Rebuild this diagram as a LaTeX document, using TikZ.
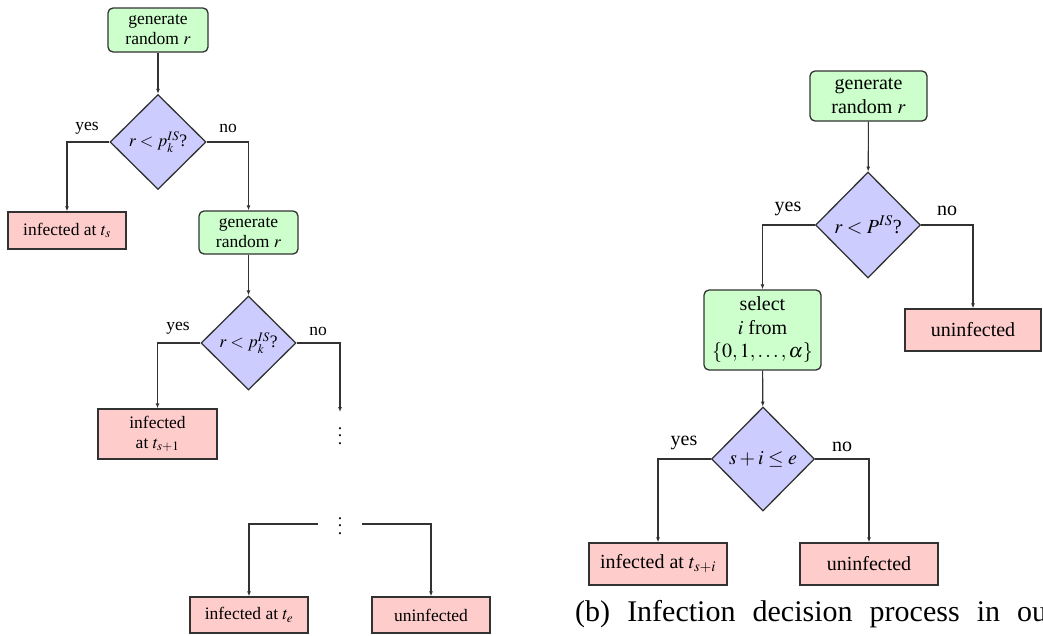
\documentclass[tikz,border=0pt]{standalone}
\usepackage{mathptmx}
\usepackage{fontspec}
\setmainfont{Liberation Serif}
\usetikzlibrary{shapes.geometric,arrows.meta}
\definecolor{gfill}{RGB}{204,255,204}
\definecolor{bfill}{RGB}{204,204,255}
\definecolor{rfill}{RGB}{255,204,204}
\definecolor{edge}{RGB}{50,50,50}
\newcommand{\bigvdots}{\vbox{\baselineskip7.5pt\lineskiplimit0pt\hbox{.}\hbox{.}\hbox{.}}}
\tikzset{
 base/.style={draw=edge, line width=1.3pt, inner sep=0pt, align=center},
 gen/.style={base, fill=gfill, rounded corners=5pt},
 res/.style={base, fill=rfill},
 dec/.style={base, diamond, fill=bfill},
 conn/.style={draw=edge, line width=1.1pt, -{Latex[length=5pt,width=4pt]}},
 fl/.style={font=\fontsize{17.5}{20}\selectfont},
 fr/.style={font=\fontsize{20}{23.5}\selectfont},
 lbl/.style={inner sep=0pt},
}
\begin{document}
\begin{tikzpicture}[x=1pt,y=1pt]
\useasboundingbox (0,0) rectangle (1043,-635);
% ---------- left ----------
\node[gen,fl,minimum width=100pt,minimum height=44pt] (g1) at (158,-30) {generate\\random $r$};
\node[dec,fl,minimum width=96pt,minimum height=95pt] (d1) at (158,-142) {$r<p_k^{IS}$?};
\node[res,fl,minimum width=118pt,minimum height=37pt] (i1) at (67,-230.5) {infected at $t_s$};
\node[gen,fl,minimum width=99pt,minimum height=43pt] (g2) at (248.5,-232.5) {generate\\random $r$};
\node[dec,fl,minimum width=95pt,minimum height=94pt] (d2) at (248.5,-343) {$r<p_k^{IS}$?};
\node[res,fl,minimum width=119pt,minimum height=50pt] (i2) at (157.5,-434) {infected\\at $t_{s+1}$};
\coordinate (c1) at (340,-412);
\node[fl,lbl] (v1) at (340,-436) {\bigvdots};
\node[fl,lbl] (v2) at (340,-526) {\bigvdots};
\coordinate (a1) at (318,-524);
\coordinate (b1) at (362,-524);
\node[res,fl,minimum width=118pt,minimum height=36pt] (i3) at (249,-615) {infected at $t_e$};
\node[res,fl,minimum width=118pt,minimum height=36pt] (u1) at (431,-615) {uninfected};
\node[fl,lbl] (y1) at (87,-128) {yes};
\node[fl,lbl] (n1) at (228,-128) {no};
\node[fl,lbl] (y2) at (178,-328) {yes};
\node[fl,lbl] (n2) at (318,-331) {no};
\draw[conn] (g1) -- (d1);
\draw[conn] (d1.west) -| (i1.north);
\draw[conn] (d1.east) -| (g2.north);
\draw[conn] (g2) -- (d2);
\draw[conn] (d2.west) -| (i2.north);
\draw[conn] (d2.east) -| (c1);
\draw[conn] (a1) -| (i3.north);
\draw[conn] (b1) -| (u1.north);
% ---------- right ----------
\node[gen,fr,minimum width=117pt,minimum height=50pt] (g3) at (868.5,-96) {generate\\random $r$};
\node[dec,fr,minimum width=105pt,minimum height=106pt] (d3) at (868,-225) {$r<P^{IS}$?};
\node[gen,fr,minimum width=117pt,minimum height=80pt] (s3) at (762.5,-330) {select\\$i$ from\\$\{0,1,\ldots,\alpha\}$};
\node[res,fr,minimum width=136pt,minimum height=42pt] (u2) at (973,-330) {uninfected};
\node[dec,fr,minimum width=103pt,minimum height=104pt] (d4) at (763,-459) {$s+i\leq e$};
\node[res,fr,minimum width=138pt,minimum height=42pt] (i4) at (658,-564) {infected at $t_{s+i}$};
\node[res,fr,minimum width=138pt,minimum height=42pt] (u3) at (869,-564) {uninfected};
\node[fr,lbl] (y3) at (788,-209) {yes};
\node[fr,lbl] (n3) at (947,-211) {no};
\node[fr,lbl] (y4) at (684,-443) {yes};
\node[fr,lbl] (n4) at (842,-447) {no};
\draw[conn] (g3) -- (d3);
\draw[conn] (d3.west) -| (s3.north);
\draw[conn] (d3.east) -| (u2.north);
\draw[conn] (s3) -- (d4);
\draw[conn] (d4.west) -| (i4.north);
\draw[conn] (d4.east) -| (u3.north);
\node[anchor=base west,inner sep=0pt,font=\fontsize{30}{32}\selectfont] (cap) at (575,-621) {\makebox[472pt][s]{(b) Infection decision process in ou}};
\end{tikzpicture}
\end{document}
